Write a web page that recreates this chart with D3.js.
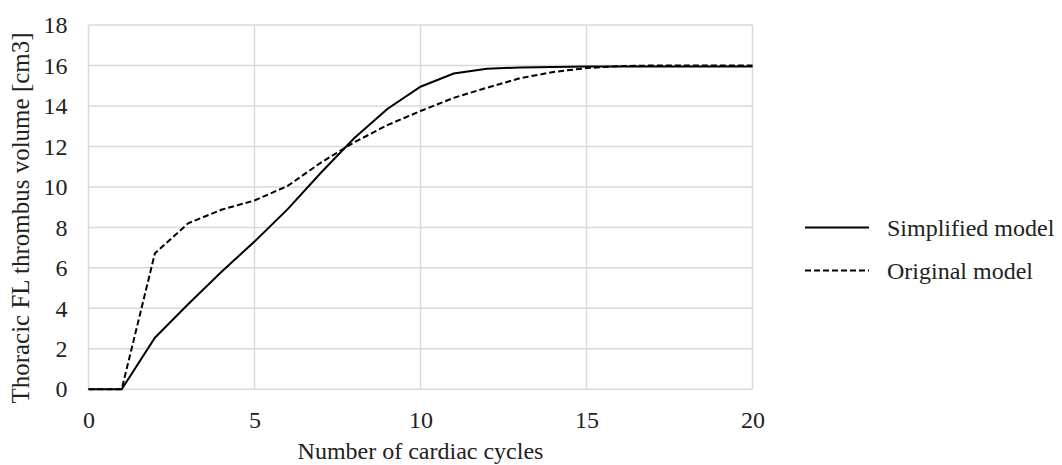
<!DOCTYPE html>
<html><head><meta charset="utf-8">
<script src="https://cdn.jsdelivr.net/npm/d3@7"></script>
<style>body{margin:0;background:#fff}</style>
</head><body>
<svg id="c" width="1062" height="465"></svg>
<script>
const cycles = [0,1,2,3,4,5,6,7,8,9,10,11,12,13,14,15,16,17,18,19,20];
const simplified = [0,0,2.55,4.2,5.8,7.3,8.9,10.7,12.4,13.85,14.95,15.6,15.84,15.9,15.93,15.95,15.95,15.95,15.95,15.95,15.95];
const original = [0,0,6.72,8.2,8.87,9.33,10.05,11.2,12.2,13.05,13.75,14.4,14.9,15.37,15.68,15.87,15.97,16.0,16.0,16.0,16.0];
const xTicks = [0,5,10,15,20];
const yTicks = [0,2,4,6,8,10,12,14,16,18];
const seriesNames = ["Simplified model","Original model"];

const svg = d3.select("#c");
const font = "'Liberation Serif', 'Times New Roman', serif";
const fs = 24;
const x = d3.scaleLinear().domain([0,20]).range([88.5,752.5]);
const y = d3.scaleLinear().domain([0,18]).range([389.3,25]);

const grid = svg.append("g");
grid.selectAll("line.h").data(yTicks).join("line")
  .attr("x1",x(0)).attr("x2",x(20)).attr("y1",d=>y(d)).attr("y2",d=>y(d))
  .attr("stroke","#d9d9d9").attr("stroke-width",1.5);
grid.selectAll("line.v").data(xTicks).join("line")
  .attr("y1",y(0)).attr("y2",y(18)).attr("x1",d=>x(d)).attr("x2",d=>x(d))
  .attr("stroke","#d9d9d9").attr("stroke-width",1.5);

const yAxis = svg.append("g").attr("transform",`translate(${x(0)},0)`)
  .call(d3.axisLeft(y).tickValues(yTicks).tickSize(0).tickPadding(21));
yAxis.select(".domain").remove();
yAxis.selectAll("text").attr("font-family",font).attr("font-size",fs).attr("fill","#222");

const xAxis = svg.append("g").attr("transform",`translate(0,${y(0)})`)
  .call(d3.axisBottom(x).tickValues(xTicks).tickSize(0).tickPadding(22));
xAxis.select(".domain").remove();
xAxis.selectAll("text").attr("font-family",font).attr("font-size",fs).attr("fill","#222");

const line = d3.line().x((d,i)=>x(cycles[i])).y(d=>y(d));
svg.append("path").datum(original).attr("d",line).attr("fill","none")
  .attr("stroke","#000").attr("stroke-width",2).attr("stroke-dasharray","6,3");
svg.append("path").datum(simplified).attr("d",line).attr("fill","none")
  .attr("stroke","#000").attr("stroke-width",2);

svg.append("text").attr("x",x(10)).attr("y",459).attr("text-anchor","middle")
  .attr("font-family",font).attr("font-size",fs).attr("fill","#222").text("Number of cardiac cycles");
svg.append("text").attr("transform",`translate(29,218) rotate(-90)`).attr("text-anchor","middle")
  .attr("font-family",font).attr("font-size",25).attr("fill","#222").text("Thoracic FL thrombus volume [cm3]");

const leg = svg.append("g");
const legY = [227.5, 270.5];
seriesNames.forEach((n,i)=>{
  leg.append("line").attr("x1",805).attr("x2",869).attr("y1",legY[i]).attr("y2",legY[i])
    .attr("stroke","#000").attr("stroke-width",2).attr("stroke-dasharray", i===1?"6,3":null);
  leg.append("text").attr("x",887).attr("y",legY[i]+8.5).attr("font-family",font).attr("font-size",fs)
    .attr("fill","#222").text(n);
});
</script>
</body></html>
